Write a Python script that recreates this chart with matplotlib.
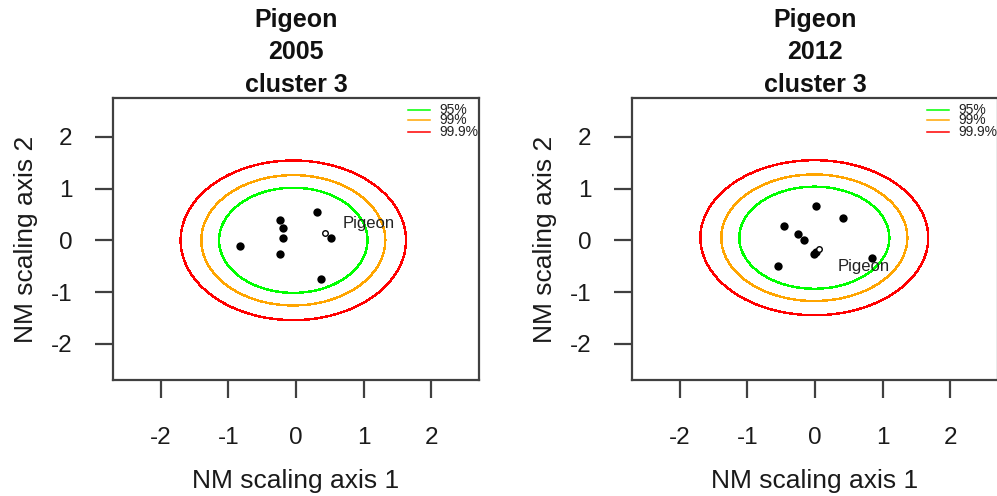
import numpy as np
import matplotlib
matplotlib.use("Agg")
import matplotlib.pyplot as plt
from matplotlib.lines import Line2D

plt.rcParams["font.family"] = ["Liberation Sans", "DejaVu Sans"]

# ---- data -------------------------------------------------------------
panel_species = ["Pigeon", "Pigeon"]
panel_years = ["2005", "2012"]
panel_clusters = ["cluster 3", "cluster 3"]

# NMDS coordinates of the cluster members
points_x_2005 = [-0.83, -0.24, -0.19, -0.19, -0.24, 0.31, 0.52, 0.37]
points_y_2005 = [-0.11, 0.39, 0.24, 0.045, -0.26, 0.55, 0.045, -0.75]
points_x_2012 = [0.01, 0.42, -0.46, -0.25, -0.16, -0.01, 0.02, 0.85, -0.55]
points_y_2012 = [0.66, 0.43, 0.27, 0.12, 0.01, -0.26, -0.23, -0.35, -0.50]

# focal species position and its label position
focal_x = [0.43, 0.06]
focal_y = [0.15, -0.17]
focal_label_x = [1.07, 0.72]
focal_label_y = [0.32, -0.51]

# reference normal distribution (centre and standard deviations)
ellipse_cx = [-0.04, -0.01]
ellipse_cy = [0.0, 0.05]
ellipse_sx = [0.449, 0.454]
ellipse_sy = [0.415, 0.403]

conf_levels = [0.95, 0.99, 0.999]
conf_labels = ["95%", "99%", "99.9%"]
conf_colors = ["#00FF00", "#FFA500", "#FF0000"]

axis_ticks = [-2, -1, 0, 1, 2]
x_label = "NM scaling axis 1"
y_label = "NM scaling axis 2"

# ---- figure -----------------------------------------------------------
W, H = 997, 496
fig = plt.figure(figsize=(W / 100, H / 100), dpi=100)

def px_box(left, top, right, bottom):
    return [left / W, 1 - bottom / H, (right - left) / W, (bottom - top) / H]

axes = [fig.add_axes(px_box(113, 98, 479, 380)),
        fig.add_axes(px_box(632, 98, 998, 380))]

frame_col = "#404040"
t = np.linspace(0, 2 * np.pi, 400)

panels = [(points_x_2005, points_y_2005), (points_x_2012, points_y_2012)]

for i, ax in enumerate(axes):
    px, py = panels[i]

    # confidence ellipses of a bivariate normal (df = 2 chi-square radius)
    for lev, col in zip(conf_levels, conf_colors):
        r = np.sqrt(-2 * np.log(1 - lev))
        ex = ellipse_cx[i] + r * ellipse_sx[i] * np.cos(t)
        ey = ellipse_cy[i] + r * ellipse_sy[i] * np.sin(t)
        ax.plot(ex, ey, color=col, lw=1.0, antialiased=False, zorder=2)

    ax.plot(px, py, "o", color="black", ms=6, mew=0, zorder=3)
    ax.plot([focal_x[i]], [focal_y[i]], "o", mfc="white", mec="black",
            ms=4, mew=1.0, zorder=4)
    ax.text(focal_label_x[i], focal_label_y[i], panel_species[i],
            ha="center", va="center", fontsize=12, color="#222222", zorder=5)

    ax.set_xlim(-2.71, 2.71)
    ax.set_ylim(-2.70, 2.75)
    ax.set_xticks(axis_ticks)
    ax.set_yticks(axis_ticks)
    ax.set_xticklabels([str(v) for v in axis_ticks])
    ax.set_yticklabels([str(v) for v in axis_ticks])

    for sp in ax.spines.values():
        sp.set_color(frame_col)
        sp.set_linewidth(1.6)
    ax.tick_params(axis="both", direction="out", length=13, width=1.6,
                   color=frame_col, labelsize=17.5, labelcolor="#1a1a1a")
    ax.tick_params(axis="x", pad=21)
    ax.tick_params(axis="y", pad=16)

    ax.set_xlabel(x_label, fontsize=19, color="#1a1a1a", va="baseline")
    ax.xaxis.set_label_coords(0.5, (380 - 488) / 282)
    ax.set_ylabel(y_label, fontsize=19, color="#1a1a1a", va="baseline")
    ax.yaxis.set_label_coords((33 - 113) / 366, 0.5)

    # three-line bold title
    for line, yb in zip([panel_species[i], panel_years[i], panel_clusters[i]],
                        [27, 59, 92]):
        ax.text(0.5, (380 - yb) / 282, line, transform=ax.transAxes,
                ha="center", va="baseline", fontsize=18, fontweight="bold",
                color="#111111")

    # compact key in the top-right corner
    key_y = [(380 - v) / 282 for v in (110, 120, 132)]
    for ky, lab, col in zip(key_y, conf_labels, conf_colors):
        ax.add_line(Line2D([0.806, 0.866], [ky, ky], transform=ax.transAxes,
                           color=col, lw=1.1, clip_on=False))
        ax.text(0.893, ky, lab, transform=ax.transAxes, ha="left",
                va="center", fontsize=10, color="#222222", clip_on=False)

fig.savefig("out.png", dpi=100)
